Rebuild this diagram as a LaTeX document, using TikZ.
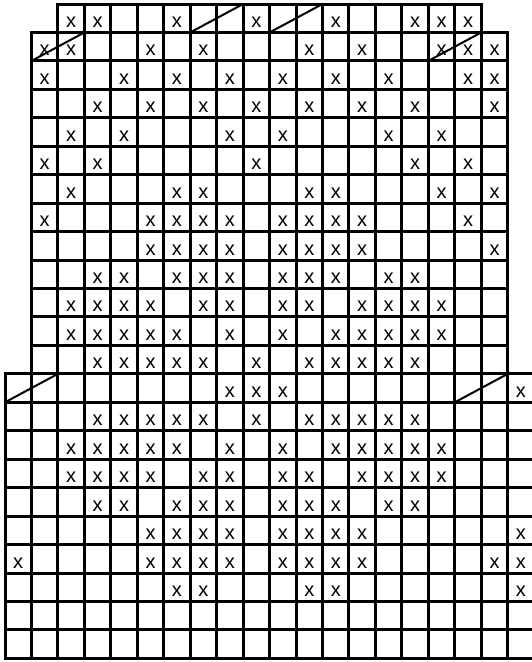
\documentclass[tikz,border=0pt]{standalone}
\usepackage{fontspec}
\setmainfont{Liberation Sans}
\begin{document}
\begin{tikzpicture}[x=1pt,y=-1pt,
  gridline/.style={draw=black,line width=3pt,line cap=rect},
  slashline/.style={draw=black,line width=2pt,line cap=round},
  stitch/.style={anchor=base,inner sep=0pt,font=\fontsize{20}{20}\selectfont}]
\def\cw{26.46}
\def\rh{28.45}
\useasboundingbox (0,0) rectangle (532,662);
% top row: columns 2..17, row 0
\foreach \k in {0,1}
  \draw[gridline] ({5+2*\cw},{4+\k*\rh}) -- ({5+18*\cw},{4+\k*\rh});
\foreach \j in {2,...,18}
  \draw[gridline] ({5+\j*\cw},4) -- ({5+\j*\cw},{4+\rh});
% upper block: columns 1..18, rows 1..12
\foreach \k in {1,...,13}
  \draw[gridline] ({5+1*\cw},{4+\k*\rh}) -- ({5+19*\cw},{4+\k*\rh});
\foreach \j in {1,...,19}
  \draw[gridline] ({5+\j*\cw},{4+\rh}) -- ({5+\j*\cw},{4+13*\rh});
% lower block: columns 0..19, rows 13..22
\foreach \k in {13,...,23}
  \draw[gridline] (5,{4+\k*\rh}) -- ({5+20*\cw},{4+\k*\rh});
\foreach \j in {0,...,20}
  \draw[gridline] ({5+\j*\cw},{4+13*\rh}) -- ({5+\j*\cw},{4+23*\rh});
% slashes: row / first column (spanning two cells)
\foreach \r/\c in {0/7,0/10,1/1,1/16,13/0,13/17}
  \draw[slashline] ({5+\c*\cw},{4+(\r+1)*\rh}) -- ({5+(\c+2)*\cw},{4+\r*\rh});
% stitch marks
\foreach \r/\cols in {
  0/{2,3,6,9,12,15,16,17},
  1/{1,2,5,7,11,13,16,17,18},
  2/{1,4,6,8,10,12,14,17,18},
  3/{3,5,7,9,11,13,15,18},
  4/{2,4,8,10,14,16},
  5/{1,3,9,15,17},
  6/{2,6,7,11,12,16,18},
  7/{1,5,6,7,8,10,11,12,13,17},
  8/{5,6,7,8,10,11,12,13,18},
  9/{3,4,6,7,8,10,11,12,14,15},
  10/{2,3,4,5,7,8,10,11,13,14,15,16},
  11/{2,3,4,5,6,8,10,12,13,14,15,16},
  12/{3,4,5,6,7,9,11,12,13,14,15},
  13/{8,9,10,19},
  14/{3,4,5,6,7,9,11,12,13,14,15},
  15/{2,3,4,5,6,8,10,12,13,14,15,16},
  16/{2,3,4,5,7,8,10,11,13,14,15,16},
  17/{3,4,6,7,8,10,11,12,14,15},
  18/{5,6,7,8,10,11,12,13,19},
  19/{0,5,6,7,8,10,11,12,13,18,19},
  20/{6,7,11,12,19}}
  \foreach \c in \cols
    \node[stitch] (m-\r-\c) at ({5+(\c+0.5)*\cw},{4+(\r+1)*\rh-5}) {x};
\end{tikzpicture}
\end{document}
